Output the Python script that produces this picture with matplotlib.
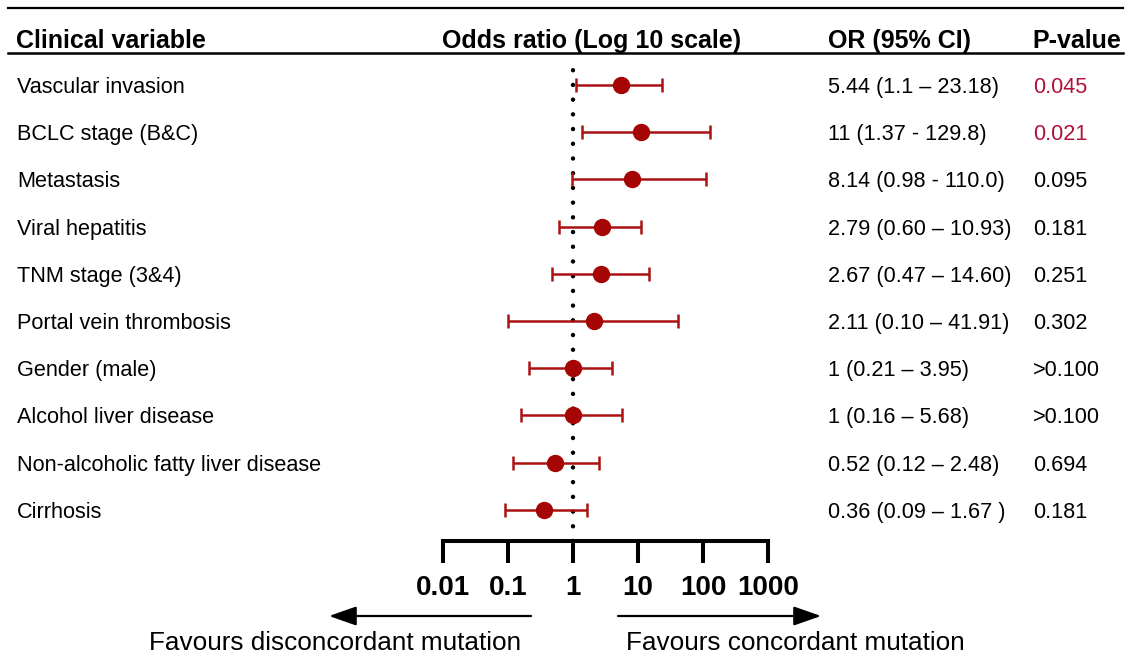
import matplotlib
matplotlib.use("Agg")
import matplotlib.pyplot as plt
import numpy as np
from matplotlib.lines import Line2D
from matplotlib.patches import FancyArrowPatch

plt.rcParams['font.family'] = ['Liberation Sans', 'DejaVu Sans']

variables = ["Vascular invasion", "BCLC stage (B&C)", "Metastasis", "Viral hepatitis",
             "TNM stage (3&4)", "Portal vein thrombosis", "Gender (male)",
             "Alcohol liver disease", "Non-alcoholic fatty liver disease", "Cirrhosis"]
odds = [5.44, 11, 8.14, 2.79, 2.67, 2.11, 1, 1, 0.52, 0.36]
ci_low = [1.1, 1.37, 0.98, 0.60, 0.47, 0.10, 0.21, 0.16, 0.12, 0.09]
ci_high = [23.18, 129.8, 110.0, 10.93, 14.60, 41.91, 3.95, 5.68, 2.48, 1.67]
or_labels = ["5.44 (1.1 \u2013 23.18)", "11 (1.37 - 129.8)", "8.14 (0.98 - 110.0)",
             "2.79 (0.60 \u2013 10.93)", "2.67 (0.47 \u2013 14.60)", "2.11 (0.10 \u2013 41.91)",
             "1 (0.21 \u2013 3.95)", "1 (0.16 \u2013 5.68)", "0.52 (0.12 \u2013 2.48)",
             "0.36 (0.09 \u2013 1.67 )"]
p_values = ["0.045", "0.021", "0.095", "0.181", "0.251", "0.302", ">0.100", ">0.100", "0.694", "0.181"]
significant = [True, True, False, False, False, False, False, False, False, False]
tick_values = [0.01, 0.1, 1, 10, 100, 1000]
tick_labels = ["0.01", "0.1", "1", "10", "100", "1000"]

W, H = 1133, 660
fig = plt.figure(figsize=(W / 100, H / 100), dpi=100)

def fx(px):
    return px / W

def fy(py):
    return 1 - py / H

# forest axes: x 443..768 px, y 62..541 px
ax_top, ax_bot = 62, 541
ax = fig.add_axes([fx(443), fy(ax_bot), fx(768) - fx(443), (ax_bot - ax_top) / H])
ax.set_xscale('log')
ax.set_xlim(0.01, 1000)
row0, step = 85, 47.2
n = len(variables)
ypos = np.arange(n)
ax.set_ylim((ax_bot - row0) / step, (ax_top - row0) / step)
ax.patch.set_alpha(0)

red = '#A50505'
odds_a = np.array(odds)
xerr = [odds_a - np.array(ci_low), np.array(ci_high) - odds_a]
ax.errorbar(odds_a, ypos, xerr=xerr, fmt='o', color=red, ecolor='#AA1212',
            ms=11.5, elinewidth=1.8, capsize=5.2, capthick=1.8, zorder=3)
ax.axvline(1, color='black', lw=3.2, linestyle=(0, (0.01, 3.3)),
           dash_capstyle='round', zorder=2)

for s in ['top', 'left', 'right']:
    ax.spines[s].set_visible(False)
ax.spines['bottom'].set_linewidth(2.9)
ax.spines['bottom'].set_capstyle('projecting')
ax.set_yticks([])
ax.set_xticks(tick_values)
ax.set_xticklabels(tick_labels, fontsize=20, fontweight='bold')
ax.xaxis.set_minor_locator(matplotlib.ticker.NullLocator())
ax.tick_params(axis='x', direction='out', length=15.5, width=2.9, pad=9)

# header lines
for yline, lw in [(8, 1.6), (53, 1.8)]:
    fig.add_artist(Line2D([fx(8), fx(1123)], [fy(yline), fy(yline)],
                          color='black', lw=lw, transform=fig.transFigure))

hdr_kw = dict(fontsize=18, fontweight='bold', va='baseline', ha='left')
fig.text(fx(16), fy(48), "Clinical variable", **hdr_kw)
fig.text(fx(442), fy(48), "Odds ratio (Log 10 scale)", **hdr_kw)
fig.text(fx(828), fy(48), "OR (95% CI)", **hdr_kw)
fig.text(fx(1032), fy(48), "P-value", **hdr_kw)

for i in range(n):
    yb = row0 + i * step + 8
    fig.text(fx(17), fy(yb), variables[i], fontsize=15.6, va='baseline', ha='left')
    fig.text(fx(828), fy(yb), or_labels[i], fontsize=15.6, va='baseline', ha='left')
    fig.text(fx(1033), fy(yb), p_values[i], fontsize=15.6, va='baseline', ha='left',
             color='#B0123C' if significant[i] else 'black')

# bottom arrows
for x0, x1 in [(531, 329), (618, 821)]:
    fig.add_artist(FancyArrowPatch((fx(x0), fy(616)), (fx(x1), fy(616)),
                                   transform=fig.transFigure,
                                   arrowstyle='-|>,head_length=1.2,head_width=0.42',
                                   mutation_scale=14, lw=1.6, color='black',
                                   shrinkA=0, shrinkB=0))
fig.text(fx(335), fy(650), "Favours disconcordant mutation", fontsize=18.8,
         va='baseline', ha='center')
fig.text(fx(795), fy(650), "Favours concordant mutation", fontsize=18.8,
         va='baseline', ha='center')

fig.savefig("out.png", dpi=100)
